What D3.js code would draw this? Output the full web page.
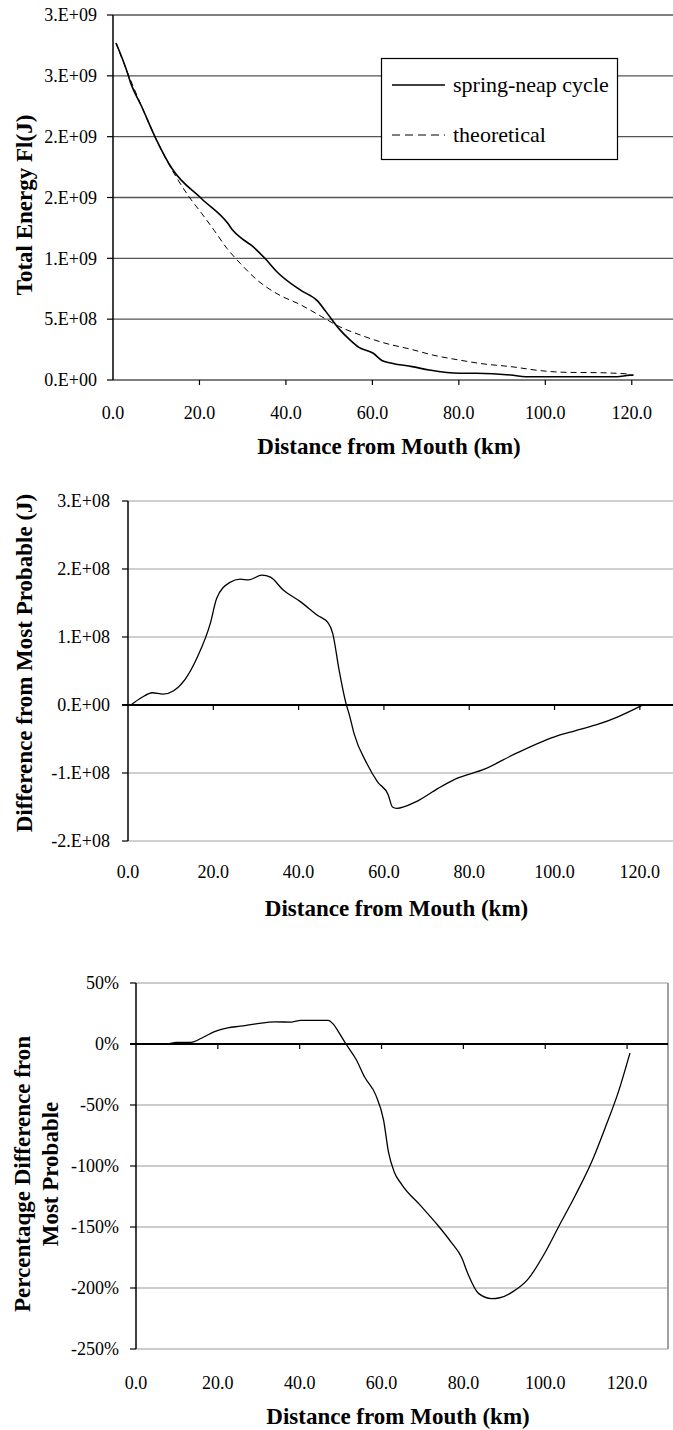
<!DOCTYPE html>
<html><head><meta charset="utf-8">
<script src="https://cdn.jsdelivr.net/npm/d3@7"></script>
<style>
body{margin:0;background:#fff}
svg{display:block}
svg text{font-family:'Liberation Serif','Times New Roman',Times,serif !important;fill:#000}
</style>
</head><body>
<svg id="c" width="673" height="1430" font-family="Liberation Serif, Times New Roman, serif"></svg>
<script>
// ---------- data ----------
const xTickValues = [0, 20, 40, 60, 80, 100, 120];
const xTickLabels = ["0.0", "20.0", "40.0", "60.0", "80.0", "100.0", "120.0"];
const xTitle = "Distance from Mouth (km)";

// chart 1: total energy
const energyDistance = [0.7,3.1,4.1,6.6,10.1,13.6,20.5,26.5,27.5,29.9,31.9,35.4,37.9,43.3,47.3,49.3,52.3,54.8,56.8,60.2,62.2,64.2,69.2,73.2,80.1,84,92,95.5,103,116.6,119.6,120.4];
const energySpringNeap = [2.77e9,2.55e9,2.44e9,2.25e9,1.97e9,1.74e9,1.49e9,1.29e9,1.24e9,1.16e9,1.11e9,0.99e9,0.89e9,0.74e9,0.65e9,0.56e9,0.42e9,0.33e9,0.27e9,0.22e9,0.16e9,0.14e9,0.11e9,0.082e9,0.055e9,0.055e9,0.041e9,0.027e9,0.027e9,0.027e9,0.04e9,0.04e9];
const theoryDistance = [0.7,3.1,6.6,10.1,12.5,14.6,17.5,20.5,23.4,26.4,29.4,33.4,38.4,43.3,48.3,52.3,57.2,62.2,69.2,74,80.1,86,92,98.8,104.8,112.7,119.6];
const energyTheoretical = [2.77e9,2.55e9,2.25e9,1.97e9,1.80e9,1.67e9,1.51e9,1.37e9,1.23e9,1.08e9,0.96e9,0.82e9,0.70e9,0.62e9,0.52e9,0.44e9,0.37e9,0.31e9,0.25e9,0.205e9,0.164e9,0.131e9,0.11e9,0.077e9,0.063e9,0.06e9,0.049e9];
const energyYTicks = [0, 5e8, 1e9, 1.5e9, 2e9, 2.5e9, 3e9];
const energyYLabels = ["0.E+00", "5.E+08", "1.E+09", "2.E+09", "2.E+09", "3.E+09", "3.E+09"];
const energyYTitle = "Total Energy Fl(J)";
const legendLabels = ["spring-neap cycle", "theoretical"];

// chart 2: difference (J)
const diffDistance = [0.7,3.2,5.7,8.2,10.7,13.3,16.3,19.3,20.8,23.8,26.3,28.3,31.4,33.4,36.4,40.4,44.4,47,48,49.5,51,52,53,56,58.5,61,62,63,67.6,72.6,76.7,83.7,90.7,100.8,104.8,109.9,115,120.4];
const diffValues = [0,0.11e8,0.18e8,0.16e8,0.21e8,0.37e8,0.71e8,1.2e8,1.57e8,1.80e8,1.85e8,1.84e8,1.91e8,1.88e8,1.69e8,1.52e8,1.32e8,1.2e8,1.05e8,0.51e8,0.05e8,-0.17e8,-0.42e8,-0.86e8,-1.13e8,-1.32e8,-1.50e8,-1.52e8,-1.42e8,-1.23e8,-1.09e8,-0.94e8,-0.72e8,-0.45e8,-0.38e8,-0.29e8,-0.17e8,-0.01e8];
const diffYTicks = [3e8, 2e8, 1e8, 0, -1e8, -2e8];
const diffYLabels = ["3.E+08", "2.E+08", "1.E+08", "0.E+00", "-1.E+08", "-2.E+08"];
const diffYTitle = "Difference from Most Probable (J)";

// chart 3: percentage difference
const pctDistance = [0,7.7,9.8,13.4,16.1,19.2,22.4,25.5,29.7,33.9,38.1,40.2,47,48.1,49.6,51.2,53.8,55.9,58.6,60.5,61.7,63.1,64.9,69.6,73.8,76.9,79.6,81.1,83.7,86.9,88.9,92.1,95.8,100,103.2,107.4,111.6,114.7,117.9,120.7];
const pctValues = [0,0,1.4,1.4,4.9,10.2,13.2,14.6,16.7,18.1,18,19.3,19.3,16.7,9.4,0.6,-12.7,-27.3,-41.9,-62.4,-88.7,-104.9,-115,-132.7,-148.8,-162,-175.2,-188.3,-204.4,-208.7,-208,-203,-192.7,-170.7,-150.2,-123.8,-94.6,-68.2,-39,-7.4];
const pctYTicks = [50, 0, -50, -100, -150, -200, -250];
const pctYLabels = ["50%", "0%", "-50%", "-100%", "-150%", "-200%", "-250%"];
const pctYTitle = ["Percentaqge Difference fron", "Most Probable"];

// ---------- drawing ----------
const FONT = "Liberation Serif, Times New Roman, serif";
const svg = d3.select("#c");
const TICK_FONT = 18, TITLE_FONT = 23;

function txt(sel) { return sel.append("text").attr("font-family", FONT).attr("fill", "#000"); }

function yAxisBlock(g, x, y, ticks, labels, gap, gridColor, gridW, xRight) {
  const a = g.append("g");
  a.selectAll("line.grid").data(ticks).join("line")
    .attr("x1", x.range()[0]).attr("x2", xRight)
    .attr("y1", d => y(d)).attr("y2", d => y(d))
    .attr("stroke", gridColor).attr("stroke-width", gridW);
  a.selectAll("line.tk").data(ticks).join("line")
    .attr("x1", x.range()[0] - 6).attr("x2", x.range()[0])
    .attr("y1", d => y(d)).attr("y2", d => y(d))
    .attr("stroke", "#000").attr("stroke-width", 1.2);
  a.selectAll("text").data(ticks).join("text")
    .attr("font-family", FONT)
    .attr("x", x.range()[0] - gap).attr("y", d => y(d)).attr("dy", "0.35em")
    .attr("text-anchor", "end").attr("font-size", TICK_FONT)
    .text((d, i) => labels[i]);
  a.append("line")
    .attr("x1", x.range()[0]).attr("x2", x.range()[0])
    .attr("y1", y.range()[0]).attr("y2", y.range()[1])
    .attr("stroke", "#000").attr("stroke-width", 1.5);
}

function xAxisBlock(g, x, yLine, labelBaseline, titleBaseline) {
  const a = g.append("g");
  a.selectAll("line.xt").data(xTickValues.filter(v => v > 0)).join("line")
    .attr("x1", d => x(d)).attr("x2", d => x(d))
    .attr("y1", yLine).attr("y2", yLine + 5)
    .attr("stroke", "#000").attr("stroke-width", 1.2);
  a.selectAll("text.xl").data(xTickValues).join("text")
    .attr("font-family", FONT)
    .attr("x", d => x(d)).attr("y", labelBaseline)
    .attr("text-anchor", "middle").attr("font-size", TICK_FONT)
    .text((d, i) => xTickLabels[i]);
  txt(a)
    .attr("x", (x.range()[0] + Math.min(x.range()[1], 673)) / 2 - 4).attr("y", titleBaseline)
    .attr("text-anchor", "middle").attr("font-size", TITLE_FONT).attr("font-weight", "bold")
    .text(xTitle);
}

function yTitle(g, lines, cx, cy, lineGap) {
  lines.forEach((t, i) => {
    txt(g)
      .attr("transform", `translate(${cx + i * lineGap},${cy}) rotate(-90)`)
      .attr("dy", "0.35em").attr("text-anchor", "middle")
      .attr("font-size", TITLE_FONT).attr("font-weight", "bold")
      .text(t);
  });
}

// ---- chart 1 ----
{
  const g = svg.append("g");
  const x = d3.scaleLinear().domain([0, 130]).range([113, 675]);
  const y = d3.scaleLinear().domain([0, 3e9]).range([380, 15]);
  yAxisBlock(g, x, y, energyYTicks, energyYLabels, 16, "#555", 1.3, 673);
  xAxisBlock(g, x, 380, 419, 454);
  yTitle(g, [energyYTitle], 24, 205, 0);
  const line = d3.line().curve(d3.curveMonotoneX).x(d => x(d[0])).y(d => y(d[1]));
  g.append("path").datum(d3.zip(theoryDistance, energyTheoretical)).attr("d", line)
    .attr("fill", "none").attr("stroke", "#000").attr("stroke-width", 1).attr("stroke-dasharray", "6,4");
  g.append("path").datum(d3.zip(energyDistance, energySpringNeap)).attr("d", line)
    .attr("fill", "none").attr("stroke", "#000").attr("stroke-width", 1.6);
  // legend
  const lg = g.append("g");
  lg.append("rect").attr("x", 381.5).attr("y", 58.5).attr("width", 236).attr("height", 101)
    .attr("fill", "#fff").attr("stroke", "#000").attr("stroke-width", 1.2);
  const rows = lg.selectAll("g.row").data(legendLabels).join("g")
    .attr("transform", (d, i) => `translate(0,${85 + i * 50})`);
  rows.append("line").attr("x1", 392).attr("x2", 445).attr("y1", 0).attr("y2", 0)
    .attr("stroke", "#000").attr("stroke-width", (d, i) => i ? 1 : 1.6)
    .attr("stroke-dasharray", (d, i) => i ? "8,5" : null);
  rows.append("text").attr("font-family", FONT).attr("x", 453).attr("y", 0).attr("dy", "0.3em")
    .attr("font-size", 22).text(d => d);
}

// ---- chart 2 ----
{
  const g = svg.append("g");
  const x = d3.scaleLinear().domain([0, 130]).range([128, 682.5]);
  const y = d3.scaleLinear().domain([-2e8, 3e8]).range([841, 501]);
  yAxisBlock(g, x, y, diffYTicks.filter(v => v !== 0), diffYLabels.filter((l, i) => diffYTicks[i] !== 0), 18, "#a0a0a0", 1, 673);
  txt(g).attr("x", 128 - 18).attr("y", y(0)).attr("dy", "0.35em")
    .attr("text-anchor", "end").attr("font-size", TICK_FONT).text(diffYLabels[diffYTicks.indexOf(0)]);
  g.append("line").attr("x1", 122).attr("x2", 673).attr("y1", y(0)).attr("y2", y(0))
    .attr("stroke", "#000").attr("stroke-width", 1.8);
  xAxisBlock(g, x, y(0), 878, 916);
  yTitle(g, [diffYTitle], 24, 663, 0);
  const line = d3.line().curve(d3.curveMonotoneX).x(d => x(d[0])).y(d => y(d[1]));
  g.append("path").datum(d3.zip(diffDistance, diffValues)).attr("d", line)
    .attr("fill", "none").attr("stroke", "#000").attr("stroke-width", 1.3);
}

// ---- chart 3 ----
{
  const g = svg.append("g");
  const x = d3.scaleLinear().domain([0, 130]).range([136, 668]);
  const y = d3.scaleLinear().domain([-250, 50]).range([1349, 983]);
  yAxisBlock(g, x, y, pctYTicks.filter(v => v !== 0), pctYLabels.filter((l, i) => pctYTicks[i] !== 0), 17, "#999", 1.2, 668);
  txt(g).attr("x", 136 - 17).attr("y", y(0)).attr("dy", "0.35em")
    .attr("text-anchor", "end").attr("font-size", TICK_FONT).text(pctYLabels[pctYTicks.indexOf(0)]);
  g.append("line").attr("x1", 668).attr("x2", 668).attr("y1", y(50)).attr("y2", y(-250))
    .attr("stroke", "#888").attr("stroke-width", 1.6);
  g.append("line").attr("x1", 130).attr("x2", 668).attr("y1", y(0)).attr("y2", y(0))
    .attr("stroke", "#000").attr("stroke-width", 1.8);
  xAxisBlock(g, x, y(0), 1389, 1424);
  yTitle(g, pctYTitle, 22, 1174, 28);
  const line = d3.line().curve(d3.curveMonotoneX).x(d => x(d[0])).y(d => y(d[1]));
  g.append("path").datum(d3.zip(pctDistance, pctValues)).attr("d", line)
    .attr("fill", "none").attr("stroke", "#000").attr("stroke-width", 1.3);
}
</script>
</body></html>
